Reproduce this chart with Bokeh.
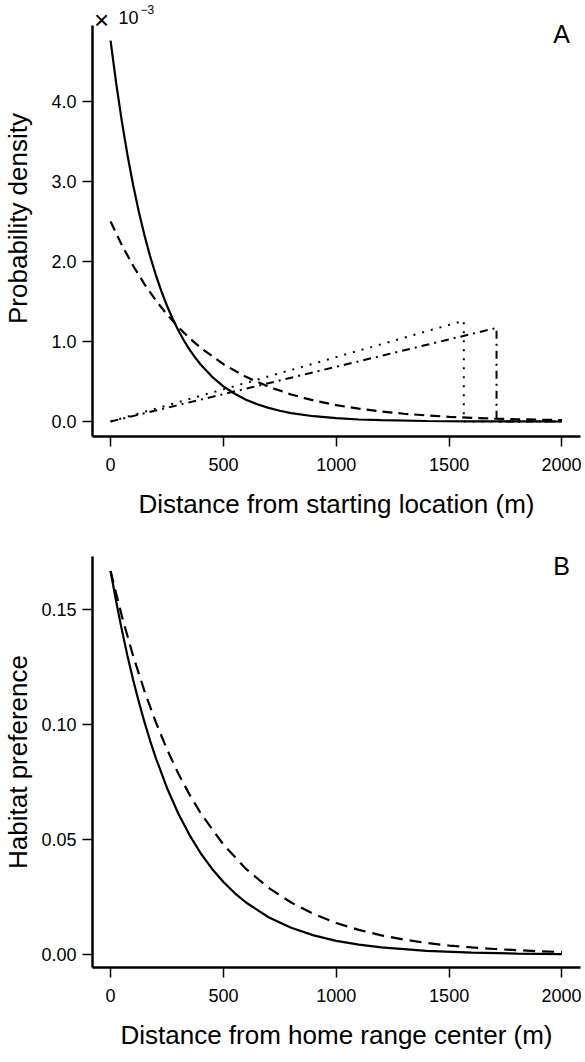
from bokeh.plotting import figure
from bokeh.layouts import column
from bokeh.models import FixedTicker, PrintfTickFormatter, Label, Range1d
from bokeh.embed import file_html
from bokeh.resources import INLINE

# ---------------- Panel A data (density in units of 1e-3) ----------------
a_solid_x = [0, 25, 50, 75, 100, 125, 150, 175, 200, 225, 250, 275, 300, 325, 350, 375, 400,
             450, 500, 550, 600, 650, 700, 750, 800, 900, 1000, 1100, 1200, 1400, 1600, 1800, 2000]
a_solid_y = [4.76, 4.226, 3.751, 3.331, 2.957, 2.625, 2.330, 2.069, 1.836, 1.630, 1.447, 1.285,
             1.141, 1.013, 0.899, 0.798, 0.709, 0.558, 0.440, 0.347, 0.273, 0.215, 0.170, 0.134,
             0.105, 0.066, 0.041, 0.025, 0.016, 0.006, 0.0023, 0.0009, 0.0003]

a_dashed_x = [0, 50, 100, 150, 200, 250, 300, 350, 400, 500, 600, 700, 800, 900, 1000,
              1100, 1200, 1300, 1400, 1500, 1600, 1700, 1800, 1900, 2000]
a_dashed_y = [2.50, 2.206, 1.947, 1.718, 1.516, 1.338, 1.181, 1.042, 0.920, 0.716, 0.558, 0.434,
              0.338, 0.263, 0.205, 0.160, 0.124, 0.097, 0.076, 0.059, 0.046, 0.036, 0.028,
              0.022, 0.017]

a_dotted_x = [0, 1565, 1565, 2000]
a_dotted_y = [0.0, 1.26, 0.0, 0.0]

a_dashdot_x = [0, 1710, 1710, 2000]
a_dashdot_y = [0.0, 1.17, 0.0, 0.0]

a_yticks = [0, 1, 2, 3, 4]
xticks = [0, 500, 1000, 1500, 2000]

# ---------------- Panel B data ----------------
b_solid_x = [0, 25, 50, 75, 100, 125, 150, 175, 200, 250, 300, 350, 400, 450, 500, 550, 600,
             700, 800, 900, 1000, 1100, 1200, 1400, 1600, 1800, 2000]
b_solid_y = [0.1667, 0.1533, 0.1411, 0.1298, 0.1194, 0.1099, 0.1011, 0.0930, 0.0856, 0.0724,
             0.0613, 0.0519, 0.0439, 0.0372, 0.0315, 0.0267, 0.0226, 0.0162, 0.0116, 0.0083,
             0.0059, 0.0043, 0.0031, 0.0016, 0.0008, 0.0004, 0.0002]

b_dashed_x = [0, 50, 100, 150, 200, 250, 300, 350, 400, 500, 600, 700, 800, 900, 1000,
              1100, 1200, 1300, 1400, 1500, 1600, 1700, 1800, 1900, 2000]
b_dashed_y = [0.1667, 0.1471, 0.1298, 0.1146, 0.1011, 0.0892, 0.0787, 0.0695, 0.0613, 0.0478,
              0.0372, 0.0290, 0.0226, 0.0176, 0.0137, 0.0107, 0.0083, 0.0065, 0.0050, 0.0039,
              0.0031, 0.0024, 0.0019, 0.0014, 0.0011]

b_yticks = [0.0, 0.05, 0.10, 0.15]

FONT = "Liberation Sans"


def style(p, xlabel, ylabel, yticks, yfmt, ystandoff):
    p.outline_line_color = None
    p.xgrid.grid_line_color = None
    p.ygrid.grid_line_color = None
    for ax in (p.xaxis[0], p.yaxis[0]):
        ax.axis_line_width = 2.5
        ax.axis_line_color = "black"
        ax.major_tick_line_width = 1.5
        ax.major_tick_line_color = "black"
        ax.major_tick_out = 10
        ax.major_tick_in = 0
        ax.minor_tick_line_color = None
        ax.major_label_text_font = FONT
        ax.major_label_text_font_size = "18px"
        ax.major_label_text_color = "black"
        ax.axis_label_text_font = FONT
        ax.axis_label_text_font_size = "26px"
        ax.axis_label_text_font_style = "normal"
        ax.axis_label_text_color = "black"
    p.xaxis[0].axis_label = xlabel
    p.xaxis[0].ticker = FixedTicker(ticks=xticks)
    p.xaxis[0].major_label_standoff = 11
    p.xaxis[0].axis_label_standoff = 15
    p.yaxis[0].axis_label = ylabel
    p.yaxis[0].ticker = FixedTicker(ticks=yticks)
    p.yaxis[0].formatter = PrintfTickFormatter(format=yfmt)
    p.yaxis[0].major_label_standoff = 6
    p.yaxis[0].axis_label_standoff = ystandoff
    p.yaxis[0].major_label_orientation = "horizontal"


# ---------------- Figure A ----------------
# frame extends above the axis top so the "x 10^-3" multiplier stays inside it
A_YMIN, A_YTOP = -0.1875, 4.95
pA = figure(frame_width=488, frame_height=436, min_border_left=88, min_border_right=1,
            min_border_top=0, min_border_bottom=94,
            x_range=Range1d(-80, 2082), y_range=Range1d(A_YMIN, 5.2625),
            output_backend="svg", toolbar_location=None, background_fill_color="white")
style(pA, "Distance from starting location (m)", "Probability density", a_yticks, "%.1f", 15)
pA.yaxis[0].bounds = (A_YMIN, A_YTOP)

pA.line(a_dotted_x, a_dotted_y, line_color="black", line_width=2, line_dash="2 7")
pA.line(a_dashdot_x, a_dashdot_y, line_color="black", line_width=2, line_dash="8 5 2 5")
pA.line(a_dashed_x, a_dashed_y, line_color="black", line_width=2.2, line_dash="10 6")
pA.line(a_solid_x, a_solid_y, line_color="black", line_width=2.2)

pA.add_layout(Label(x=-73, y=5.025, text="×", text_font=FONT, text_font_size="26px",
                    text_color="black", text_baseline="alphabetic"))
pA.add_layout(Label(x=35, y=5.05, text="10", text_font=FONT, text_font_size="18px",
                    text_color="black", text_baseline="alphabetic"))
pA.add_layout(Label(x=133, y=5.15, text="−3", text_font=FONT, text_font_size="12px",
                    text_color="black", text_baseline="alphabetic"))
pA.add_layout(Label(x=1998, y=4.84, text="A", text_font=FONT, text_font_size="25px",
                    text_color="black", text_align="center", text_baseline="middle"))

# ---------------- Figure B ----------------
pB = figure(frame_width=488, frame_height=411, min_border_left=88, min_border_right=1,
            min_border_top=26, min_border_bottom=87,
            x_range=Range1d(-80, 2082), y_range=Range1d(-0.00565, 0.1730),
            output_backend="svg", toolbar_location=None, background_fill_color="white")
style(pB, "Distance from home range center (m)", "Habitat preference", b_yticks, "%.2f", 5)

pB.line(b_dashed_x, b_dashed_y, line_color="black", line_width=2.2, line_dash="12 7")
pB.line(b_solid_x, b_solid_y, line_color="black", line_width=2.2)
pB.add_layout(Label(x=1998, y=0.1687, text="B", text_font=FONT, text_font_size="25px",
                    text_color="black", text_align="center", text_baseline="middle"))

layout = column(pA, pB, spacing=0)
open("out.html", "w").write(file_html(layout, INLINE))
